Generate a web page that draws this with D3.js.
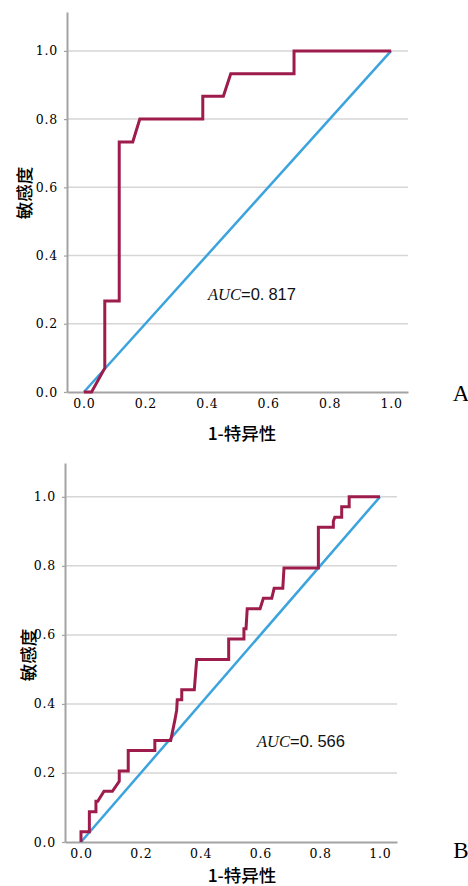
<!DOCTYPE html>
<html>
<head>
<meta charset="utf-8">
<script src="https://cdn.jsdelivr.net/npm/d3@7"></script>
<style>
  html, body { margin: 0; padding: 0; background: #fff; }
  svg { display: block; }
</style>
</head>
<body>
<svg id="chart" width="468" height="886"></svg>
<script>
// ---- data ----
const tickValues = [0, 0.2, 0.4, 0.6, 0.8, 1.0];
const tickLabels = ["0.0", "0.2", "0.4", "0.6", "0.8", "1.0"];
const xTitle = "1-特异性";
const yTitle = "敏感度";
const refLine = [0, 1];

const rocA_fpr = [0, 0.025, 0.068, 0.068, 0.115, 0.115, 0.159, 0.182, 0.387, 0.387, 0.454, 0.478, 0.684, 0.684, 1.0];
const rocA_tpr = [0, 0, 0.070, 0.267, 0.267, 0.733, 0.733, 0.800, 0.800, 0.867, 0.867, 0.933, 0.933, 1.0, 1.0];
const aucA = "0.817";

const rocB_fpr = [0, 0, 0.028, 0.028, 0.050, 0.050, 0.056, 0.077, 0.105, 0.128, 0.128, 0.158, 0.158, 0.247, 0.247,
  0.300, 0.314, 0.320, 0.322, 0.337, 0.337, 0.379, 0.387, 0.494, 0.494, 0.545, 0.545, 0.552, 0.556, 0.599,
  0.610, 0.638, 0.646, 0.675, 0.679, 0.794, 0.794, 0.844, 0.844, 0.849, 0.872, 0.872, 0.897, 0.897, 1.0];
const rocB_tpr = [0, 0.030, 0.030, 0.088, 0.088, 0.118, 0.118, 0.147, 0.147, 0.176, 0.206, 0.206, 0.265, 0.265, 0.294,
  0.294, 0.353, 0.382, 0.412, 0.412, 0.441, 0.441, 0.529, 0.529, 0.588, 0.588, 0.618, 0.618, 0.676, 0.676,
  0.706, 0.706, 0.735, 0.735, 0.794, 0.794, 0.912, 0.912, 0.929, 0.941, 0.941, 0.971, 0.971, 1.0, 1.0];
const aucB = "0.566";

const panelLetters = ["A", "B"];

// ---- layout ----
const panels = [
  { fpr: rocA_fpr, tpr: rocA_tpr, auc: aucA, letter: panelLetters[0],
    xDom: [-0.055, 1.055], xRange: [67, 408], yDom: [0, 1.114], yRange: [392, 12],
    aucPos: [208, 300], xTitlePos: [242, 440], yTitlePos: [23, 193], letterPos: [461, 401] },
  { fpr: rocB_fpr, tpr: rocB_tpr, auc: aucB, letter: panelLetters[1],
    xDom: [-0.0535, 1.057], xRange: [65, 397], yDom: [0, 1.098], yRange: [842, 463],
    aucPos: [257, 747], xTitlePos: [242, 882], yTitlePos: [27, 655], letterPos: [461, 858] }
];

const svg = d3.select("#chart");
const RED = "#9d1c4c", BLUE = "#3ba3dd", GRID = "#d6d6d6", AXIS = "#a3a3a3";
const tickFont = "'DejaVu Serif', 'Liberation Serif', serif";
const cjkFont = "'Noto Sans CJK SC', sans-serif";

panels.forEach(p => {
  const x = d3.scaleLinear().domain(p.xDom).range(p.xRange);
  const y = d3.scaleLinear().domain(p.yDom).range(p.yRange);
  const g = svg.append("g");

  // gridlines
  g.append("g").selectAll("line")
    .data(tickValues.filter(v => v > 0))
    .join("line")
    .attr("x1", p.xRange[0]).attr("x2", p.xRange[1])
    .attr("y1", d => y(d)).attr("y2", d => y(d))
    .attr("stroke", GRID).attr("stroke-width", 1.5);

  // y axis
  const yAx = g.append("g").attr("transform", `translate(${p.xRange[0]},0)`)
    .call(d3.axisLeft(y).tickValues(tickValues).tickFormat((d, i) => tickLabels[i])
      .tickSize(3).tickSizeOuter(0).tickPadding(6));
  yAx.select(".domain").attr("stroke", AXIS).attr("stroke-width", 2);
  yAx.selectAll(".tick line").attr("stroke", AXIS).attr("stroke-width", 1.2);
  yAx.selectAll("text").attr("font-family", tickFont).attr("font-size", 12.5)
    .attr("letter-spacing", "0.8px").attr("fill", "#000");

  // x axis
  const xAx = g.append("g").attr("transform", `translate(0,${p.yRange[0]})`)
    .call(d3.axisBottom(x).tickValues(tickValues).tickFormat((d, i) => tickLabels[i])
      .tickSize(0).tickSizeOuter(0).tickPadding(7));
  xAx.select(".domain").attr("stroke", AXIS).attr("stroke-width", 2);
  xAx.selectAll("text").attr("font-family", tickFont).attr("font-size", 12.5)
    .attr("letter-spacing", "0.8px").attr("fill", "#000");

  // reference diagonal
  g.append("path")
    .datum(refLine)
    .attr("d", d3.line().x(d => x(d)).y(d => y(d)))
    .attr("fill", "none").attr("stroke", BLUE).attr("stroke-width", 2.5);

  // ROC curve
  const pts = p.fpr.map((f, i) => [f, p.tpr[i]]);
  g.append("path")
    .datum(pts)
    .attr("d", d3.line().x(d => x(d[0])).y(d => y(d[1])))
    .attr("fill", "none").attr("stroke", RED).attr("stroke-width", 3)
    .attr("stroke-linejoin", "miter");

  // AUC text
  const t = g.append("text").attr("x", p.aucPos[0]).attr("y", p.aucPos[1])
    .attr("font-size", 16.5).attr("fill", "#111");
  t.append("tspan").attr("font-family", "'Liberation Serif', serif").attr("font-style", "italic").text("AUC");
  t.append("tspan").attr("font-family", "'Liberation Sans', sans-serif").text("=" + p.auc.slice(0, 2));
  t.append("tspan").attr("font-family", "'Liberation Sans', sans-serif").attr("dx", 4).text(p.auc.slice(2));

  // axis titles
  g.append("text").attr("x", p.xTitlePos[0]).attr("y", p.xTitlePos[1])
    .attr("text-anchor", "middle").attr("font-family", cjkFont).attr("font-weight", 500)
    .attr("font-size", 17.5).attr("fill", "#000").text(xTitle);
  g.append("text")
    .attr("transform", `translate(${p.yTitlePos[0]},${p.yTitlePos[1]}) rotate(-90)`)
    .attr("text-anchor", "middle").attr("dominant-baseline", "central")
    .attr("font-family", cjkFont).attr("font-weight", 500)
    .attr("font-size", 17.5).attr("fill", "#000").text(yTitle);

  // panel letter
  g.append("text").attr("x", p.letterPos[0]).attr("y", p.letterPos[1])
    .attr("text-anchor", "middle").attr("font-family", "'Liberation Serif', serif")
    .attr("font-size", 23).attr("fill", "#000").text(p.letter);
});
</script>
</body>
</html>
